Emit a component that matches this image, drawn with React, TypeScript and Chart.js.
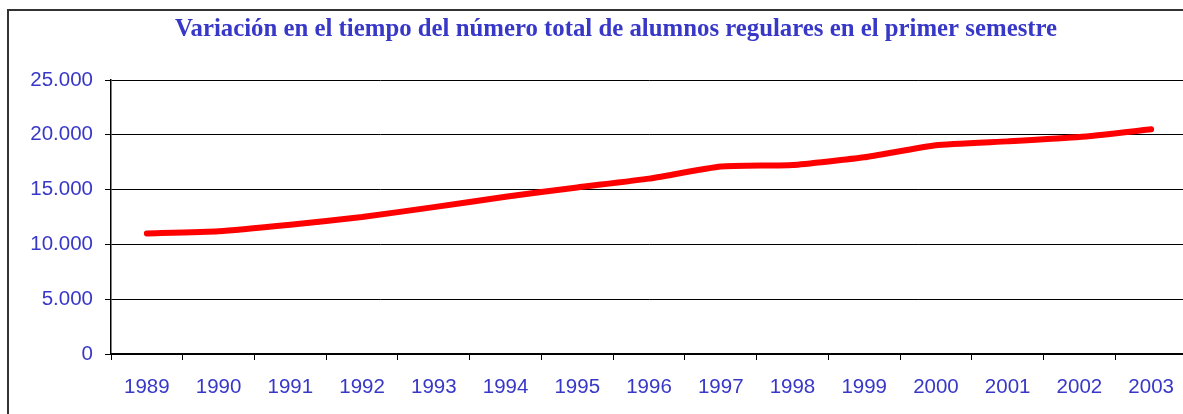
import React, { useEffect, useRef } from "react";
import { Chart, registerables } from "chart.js";

Chart.register(...registerables);

const years = ["1989", "1990", "1991", "1992", "1993", "1994", "1995", "1996", "1997", "1998", "1999", "2000", "2001", "2002", "2003"];
const alumnos = [11000, 11200, 11800, 12500, 13400, 14350, 15200, 16000, 17100, 17250, 17950, 19050, 19400, 19800, 20500];
const titleText = "Variación en el tiempo del número total de alumnos regulares en el primer semestre";

const BLUE = "#3838C8";

function fmt(v: number): string {
  return String(Math.round(v)).replace(/\B(?=(\d{3})+(?!\d))/g, ".");
}

const titlePlugin = {
  id: "offsetTitle",
  afterDraw(chart: any) {
    const ctx = chart.ctx;
    ctx.save();
    ctx.font = "bold 24.8px 'Liberation Serif', 'Times New Roman', serif";
    ctx.fillStyle = BLUE;
    ctx.textAlign = "center";
    ctx.textBaseline = "middle";
    ctx.fillText(titleText, 616, 30);
    ctx.restore();
  },
};

export default function App() {
  const ref = useRef<HTMLCanvasElement | null>(null);
  useEffect(() => {
    if (!ref.current) return;
    const chart = new Chart(ref.current, {
      type: "line",
      data: {
        labels: years,
        datasets: [
          {
            data: alumnos,
            borderColor: "#FF0000",
            borderWidth: 6,
            borderCapStyle: "round",
            borderJoinStyle: "round",
            pointRadius: 0,
            tension: 0.15,
            fill: false,
          },
        ],
      },
      options: {
        animation: false,
        responsive: false,
        maintainAspectRatio: false,
        layout: { padding: { left: 0, right: 45, top: 80, bottom: 0 } },
        plugins: {
          legend: { display: false },
          tooltip: { enabled: false },
          title: { display: false },
        },
        scales: {
          x: {
            offset: true,
            grid: { display: true, drawOnChartArea: false, offset: true, tickLength: 6, color: "#000", lineWidth: 1 },
            border: { display: true, color: "#000", width: 2 },
            ticks: {
              color: BLUE,
              font: { family: "'Liberation Sans', Arial, sans-serif", size: 20.5 },
              padding: 15,
              maxRotation: 0,
              autoSkip: false,
            },
            afterFit: (s: any) => {
              s.height = 60;
            },
          },
          y: {
            min: 0,
            max: 25000,
            grid: { color: "#000", lineWidth: 1, tickLength: 6 },
            border: { display: true, color: "#000", width: 1.5 },
            ticks: {
              stepSize: 5000,
              color: BLUE,
              font: { family: "'Liberation Sans', Arial, sans-serif", size: 20.5 },
              padding: 12,
              callback: (v: any) => fmt(Number(v)),
            },
            afterFit: (s: any) => {
              s.width = 111;
            },
          },
        },
      },
      plugins: [titlePlugin],
    });
    return () => chart.destroy();
  }, []);

  return (
    <div style={{ position: "fixed", left: 0, top: 0, width: 1183, height: 414, background: "#fff", overflow: "hidden" }}>
      <canvas ref={ref} width={1232} height={414} style={{ position: "absolute", left: 0, top: 0, width: 1232, height: 414 }} />
      <div style={{ position: "absolute", left: 7, top: 9, width: 2, height: 405, background: "#333" }} />
      <div style={{ position: "absolute", left: 7, top: 9, width: 1176, height: 2, background: "#333" }} />
    </div>
  );
}
